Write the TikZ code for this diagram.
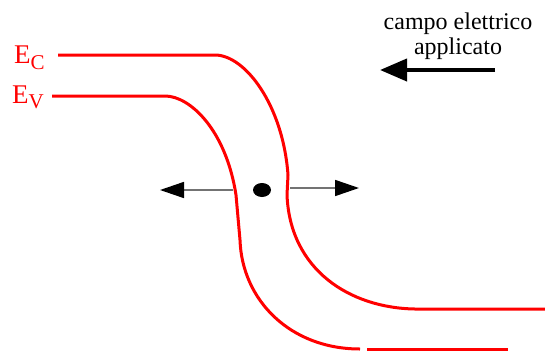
\documentclass[tikz,border=0pt]{standalone}
\usepackage{fontspec}
\setmainfont{Liberation Serif}
\newfontfamily\tnr{Liberation Serif}
\usetikzlibrary{arrows.meta,shapes.geometric}
\begin{document}
\begin{tikzpicture}[x=1pt,y=-1pt,
  band/.style={draw=red,line width=3pt},
  small arrow/.style={draw=black!55,line width=1.6pt,-{Triangle[length=24pt,width=16pt,fill=black,color=black]}},
  field arrow/.style={draw=black,line width=4pt,-{Triangle[length=27pt,width=22pt]}},
  lbl/.style={text=red,font=\tnr\fontsize{27}{27}\selectfont,inner sep=0pt,anchor=base west},
  txt/.style={font=\tnr\fontsize{24}{24}\selectfont,inner sep=0pt,anchor=base}]
\useasboundingbox (0,0) rectangle (545,351);
% labels
\node[lbl] (ec) at (14,63) {E\raisebox{-6pt}{\fontsize{21}{21}\selectfont C}};
\node[lbl] (ev) at (12,103) {E\raisebox{-5pt}{\fontsize{21}{21}\selectfont V}};
% conduction band
\draw[band] (58,55) -- (215,55) .. controls (245,55) and (283,105) .. (288,175)
  -- (287,195) .. controls (290,270) and (350,308) .. (415,309) -- (545,309);
% valence band
\draw[band] (52,96) -- (165,96) .. controls (190,96) and (226,130) .. (236,195)
  -- (240,240) .. controls (242,300) and (290,349) .. (360,349);
\draw[band] (367,349) -- (508,349);
% electron
\node[fill=black,ellipse,minimum width=18pt,minimum height=14pt,inner sep=0pt] (el) at (262,190) {};
\coordinate (la) at (233,190);
\coordinate (lb) at (160,190);
\coordinate (ra) at (290,188);
\coordinate (rb) at (359,188);
\draw[small arrow] (la) -- (lb);
\draw[small arrow] (ra) -- (rb);
% field
\node[txt] (t1) at (458,29) {campo elettrico};
\node[txt] (t2) at (458,54) {applicato};
\coordinate (fa) at (495,70);
\coordinate (fb) at (380,70);
\draw[field arrow] (fa) -- (fb);
\end{tikzpicture}
\end{document}
